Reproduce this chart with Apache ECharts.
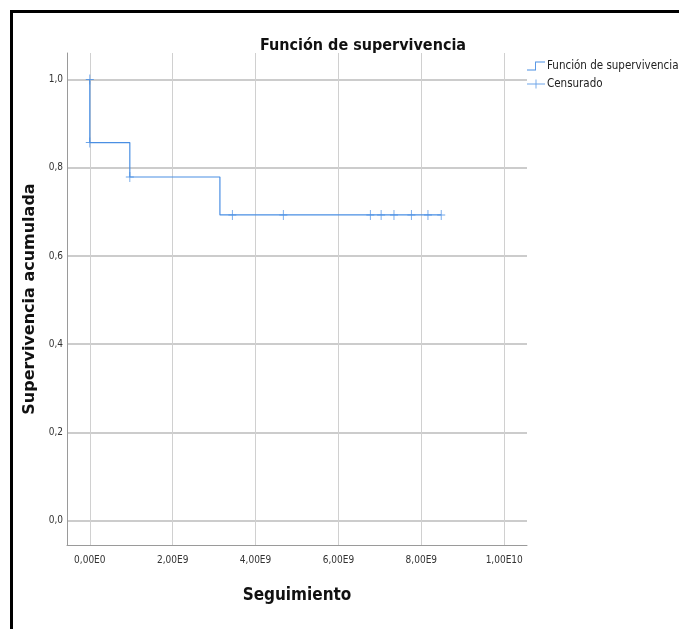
<!DOCTYPE html>
<html>
<head>
<meta charset="utf-8">
<script src="https://cdn.jsdelivr.net/npm/echarts@6/dist/echarts.min.js"></script>
<style>html,body{margin:0;padding:0;background:#fff;}#c{width:679px;height:629px;}</style>
</head>
<body>
<div id="c"></div>
<script>
// ---- data ----
const xTickValues = [0, 2e9, 4e9, 6e9, 8e9, 1e10];
const xTickLabels = ['0,00E0', '2,00E9', '4,00E9', '6,00E9', '8,00E9', '1,00E10'];
const yTickValues = [0, 0.2, 0.4, 0.6, 0.8, 1.0];
const yTickLabels = ['0,0', '0,2', '0,4', '0,6', '0,8', '1,0'];
const stepTimes = [0, 0, 0.966e9, 3.14e9, 8.48e9];
const stepSurvival = [1.0, 0.857, 0.779, 0.693, 0.693];
const censorTimes = [0, 0, 0.966e9, 3.44e9, 4.67e9, 6.77e9, 7.03e9, 7.34e9, 7.76e9, 8.16e9, 8.48e9];
const censorSurvival = [1.0, 0.857, 0.779, 0.693, 0.693, 0.693, 0.693, 0.693, 0.693, 0.693, 0.693];

// ---- chart ----
const blue = '#4a8fe3';
const narrow = "'Liberation Sans Narrow', 'DejaVu Sans Condensed', sans-serif";
const xMin = -0.55e9, xMax = 10.55e9, xStep = 0.05e9;
const yMin = -0.055, yMax = 1.06, yStep = 0.005;

function cycleColors(period, offset, color) {
  const a = new Array(period).fill('rgba(0,0,0,0)');
  a[offset] = color;
  return a;
}
function lookup(values, labels, tol) {
  return function (v) {
    const i = values.findIndex(t => Math.abs(v - t) < tol);
    return i >= 0 ? labels[i] : '';
  };
}

const chart = echarts.init(document.getElementById('c'), null, {renderer: 'canvas'});
chart.setOption({
  animation: false,
  backgroundColor: '#fff',
  title: {
    text: 'Función de supervivencia',
    left: 358, top: 33, textAlign: 'center',
    textStyle: {fontFamily: narrow, fontWeight: 'bold', fontSize: 16, color: '#111'}
  },
  legend: {
    orient: 'vertical', left: 527, top: 60, padding: 0,
    itemWidth: 18, itemHeight: 10, itemGap: 6,
    textStyle: {fontFamily: narrow, fontSize: 11.5, color: '#222', padding: [0, 0, 0, -3]},
    itemStyle: {borderWidth: 0},
    data: [
      {name: 'Función de supervivencia', icon: 'path://M0,9h9v-9h11v1h-10v9h-10z'},
      {name: 'Censurado', icon: 'path://M0,4.5h20v1h-20z M9.5,0h1v10h-1z'}
    ]
  },
  grid: {left: 67, right: 152, top: 53, bottom: 84},
  xAxis: {
    type: 'value', min: xMin, max: xMax, interval: xStep,
    name: 'Seguimiento', nameLocation: 'middle', nameGap: 42,
    nameTextStyle: {fontFamily: narrow, fontWeight: 'bold', fontSize: 17, color: '#111'},
    axisLine: {show: true, onZero: false, lineStyle: {color: '#9a9a9a', width: 1}},
    axisTick: {show: false},
    axisLabel: {formatter: lookup(xTickValues, xTickLabels, 1e6), margin: 10,
      fontFamily: narrow, fontSize: 10, color: '#333'},
    splitLine: {show: true, lineStyle: {width: 1, color: cycleColors(40, 11, '#d0d0d0')}}
  },
  yAxis: {
    type: 'value', min: yMin, max: yMax, interval: yStep,
    name: 'Supervivencia acumulada', nameLocation: 'middle', nameGap: 25,
    nameTextStyle: {fontFamily: "'DejaVu Sans', sans-serif", fontWeight: 'bold', fontSize: 16, color: '#111'},
    axisLine: {show: true, onZero: false, lineStyle: {color: '#9a9a9a', width: 1}},
    axisTick: {show: false},
    axisLabel: {formatter: lookup(yTickValues, yTickLabels, 1e-6), margin: 4,
      fontFamily: narrow, fontSize: 10, color: '#333'},
    splitLine: {show: true, lineStyle: {width: 1.8, color: cycleColors(40, 11, '#cccccc')}}
  },
  graphic: [{
    type: 'rect', silent: true,
    shape: {x: 11.5, y: 11.5, width: 800, height: 800},
    style: {fill: 'none', stroke: '#000', lineWidth: 3}
  }],
  series: [
    {
      name: 'Función de supervivencia', type: 'line', step: 'end',
      data: stepTimes.map((t, i) => [t, stepSurvival[i]]),
      showSymbol: false, symbol: 'none',
      color: blue,
      lineStyle: {color: blue, width: 1.2}
    },
    {
      name: 'Censurado', type: 'scatter',
      data: censorTimes.map((t, i) => [t, censorSurvival[i]]),
      symbol: 'path://M0,4.5h9v1h-9z M4,0h1v10h-1z',
      symbolSize: [8, 10],
      itemStyle: {color: blue}
    }
  ]
});
</script>
</body>
</html>
